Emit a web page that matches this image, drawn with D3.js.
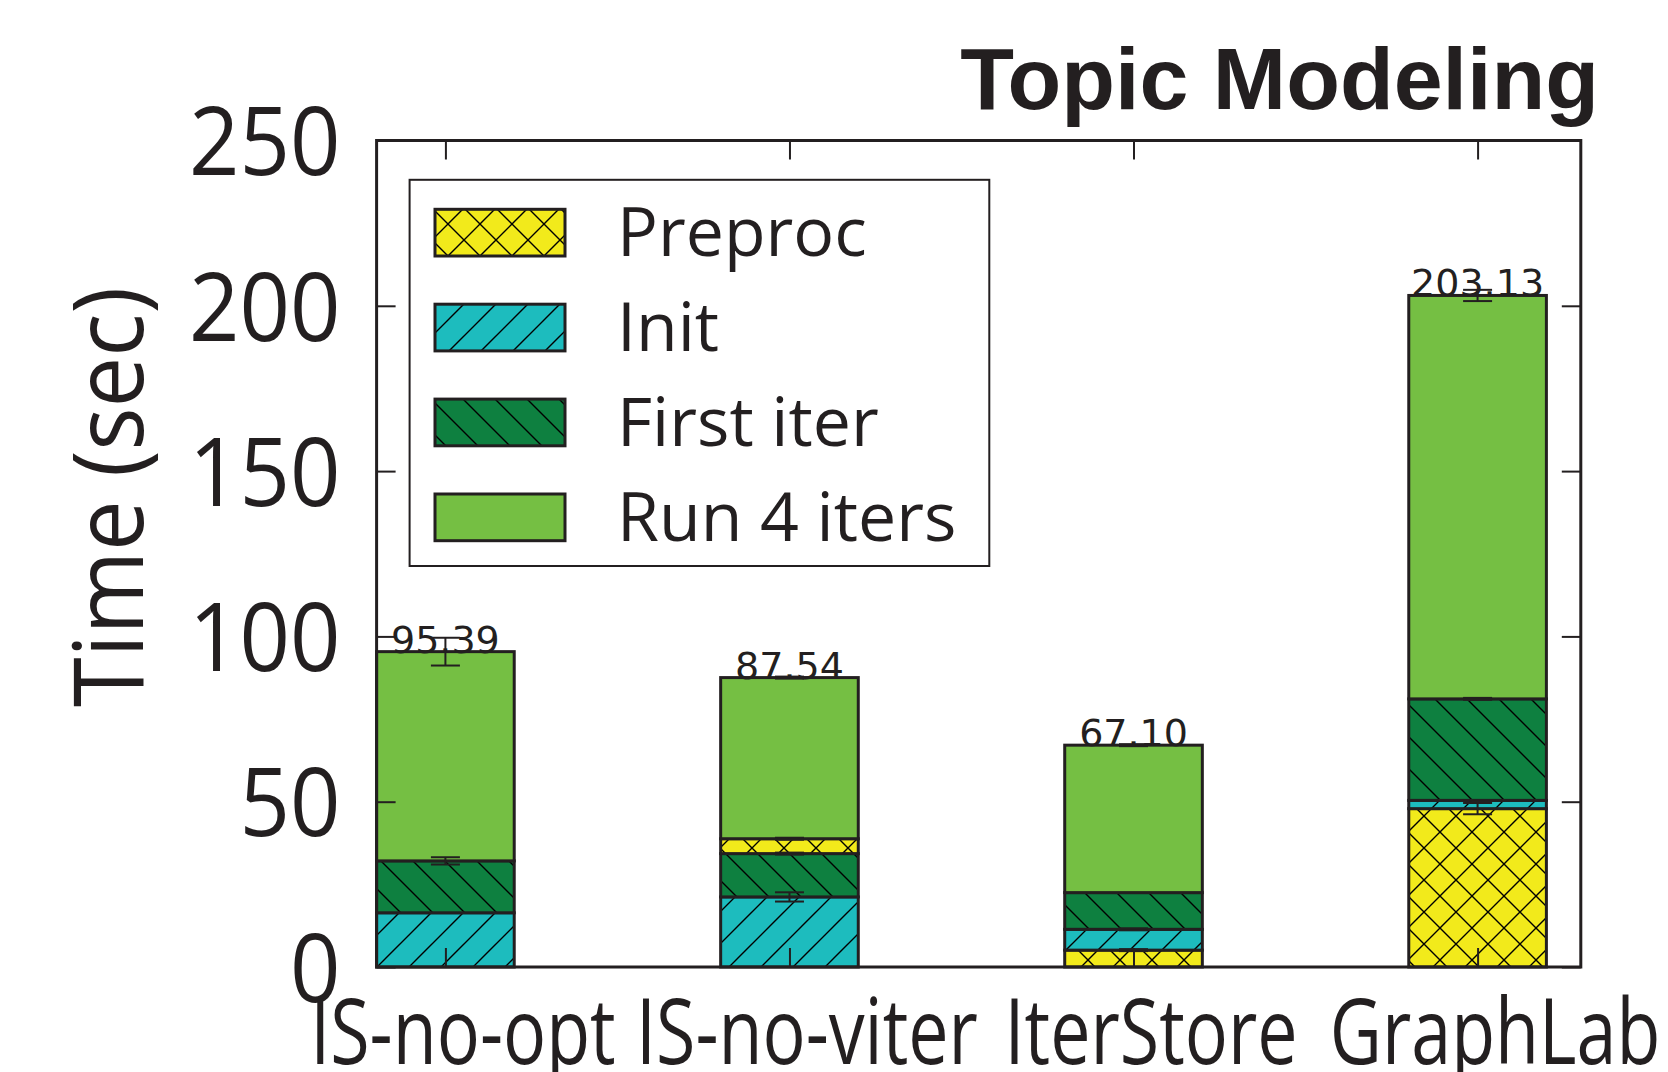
<!DOCTYPE html>
<html>
<head>
<meta charset="utf-8">
<script src="https://cdn.jsdelivr.net/npm/d3@7"></script>
<style>
  body { margin: 0; background: #fff; }
  svg { display: block; }
</style>
</head>
<body>
<svg id="chart"></svg>
<script>
// data
const categories = ["IS-no-opt", "IS-no-viter", "IterStore", "GraphLab"];
const seriesNames = ["Preproc", "Init", "First iter", "Run 4 iters"];
const preproc   = [0, 4.5, 5.1, 47.9];
const init      = [16.4, 21.2, 6.3, 2.5];
const firstIter = [15.7, 13.1, 11.1, 30.7];
const run4      = [63.29, 48.74, 44.6, 122.03];
// error bar half widths, drawn at each segment's top
const preprocErr   = [0, 0.3, 0.3, 1.7];
const initErr      = [0, 1.4, 0.3, 0];
const firstIterErr = [1.1, 0.3, 0, 0.3];
const run4Err      = [4.2, 0.3, 0.3, 1.7];
// stacking order of the series inside each bar (bottom first)
const stackOrder = [[0, 1, 2, 3], [1, 2, 0, 3], [0, 1, 2, 3], [0, 1, 2, 3]];
const yTicks = [0, 50, 100, 150, 200, 250];

const values = [preproc, init, firstIter, run4];
const errors = [preprocErr, initErr, firstIterErr, run4Err];
const colors = ["#f2ea1b", "#1dbcbe", "#0e8040", "#75bf43"];
const hatches = ["x", "/", "\\", ""];
const ink = "#231f20";

const W = 1668, H = 1072;
const svg = d3.select("#chart").attr("width", W).attr("height", H);
svg.append("rect").attr("width", W).attr("height", H).attr("fill", "#fff");

const plot = {left: 376.6, right: 1580.8, top: 140.5, bottom: 967};
const x = d3.scaleLinear().domain([-0.2, 3.3]).range([plot.left, plot.right]);
const y = d3.scaleLinear().domain([0, 250]).range([plot.bottom, plot.top]);
const barW = x(0.4) - x(0);

// hatch patterns
const defs = svg.append("defs");
const T = 32;
const hatchPaths = {
  "/": `M0,${T}L${T},0M${-T/4},${T/4}L${T/4},${-T/4}M${T*3/4},${T*5/4}L${T*5/4},${T*3/4}`,
  "\\": `M0,0L${T},${T}M${-T/4},${T*3/4}L${T/4},${T*5/4}M${T*3/4},${-T/4}L${T*5/4},${T/4}`
};
hatchPaths["x"] = hatchPaths["/"] + hatchPaths["\\"];
seriesNames.forEach((name, s) => {
  const p = defs.append("pattern")
    .attr("id", "pat" + s)
    .attr("patternUnits", "userSpaceOnUse")
    .attr("width", T).attr("height", T);
  p.append("rect").attr("width", T).attr("height", T).attr("fill", colors[s]);
  if (hatches[s]) {
    p.append("path").attr("d", hatchPaths[hatches[s]])
      .attr("stroke", "#000").attr("stroke-width", 1.4).attr("fill", "none");
  }
});

// segments
const segments = [];
categories.forEach((c, i) => {
  let acc = 0;
  stackOrder[i].forEach(s => {
    const v = values[s][i];
    segments.push({i, s, y0: acc, y1: acc + v, err: errors[s][i]});
    acc += v;
  });
});

svg.append("g").selectAll("rect")
  .data(segments.filter(d => d.y1 > d.y0))
  .join("rect")
  .attr("x", d => x(d.i) - barW / 2)
  .attr("width", barW)
  .attr("y", d => y(d.y1))
  .attr("height", d => y(d.y0) - y(d.y1))
  .attr("fill", d => `url(#pat${d.s})`)
  .attr("stroke", ink)
  .attr("stroke-width", 3);

// error bars
const capW = 29;
const eb = svg.append("g").attr("stroke", ink).attr("stroke-width", 2);
segments.filter(d => d.err > 0).forEach(d => {
  const cx = x(d.i);
  eb.append("line").attr("x1", cx).attr("x2", cx)
    .attr("y1", y(d.y1 - d.err)).attr("y2", y(d.y1 + d.err));
  [d.y1 - d.err, d.y1 + d.err].forEach(v => {
    eb.append("line").attr("x1", cx - capW / 2).attr("x2", cx + capW / 2)
      .attr("y1", y(v)).attr("y2", y(v));
  });
});

// value labels
const totals = categories.map((c, i) => values.reduce((a, arr) => a + arr[i], 0));
svg.append("g").selectAll("text")
  .data(totals)
  .join("text")
  .attr("x", (d, i) => x(i))
  .attr("y", d => y(d) + 1)
  .attr("text-anchor", "middle")
  .attr("font-family", "DejaVu Sans")
  .attr("font-size", 38)
  .attr("fill", ink)
  .text(d => d.toFixed(2));

// axes: ticks inward on all four sides
const tickLen = 19;
const gLeft = svg.append("g").attr("transform", `translate(${plot.left},0)`)
  .call(d3.axisLeft(y).tickValues(yTicks).tickSizeInner(-tickLen).tickSizeOuter(0).tickPadding(36));
const gRight = svg.append("g").attr("transform", `translate(${plot.right},0)`)
  .call(d3.axisRight(y).tickValues(yTicks).tickSizeInner(-tickLen).tickSizeOuter(0).tickFormat(""));
const gBottom = svg.append("g").attr("transform", `translate(0,${plot.bottom})`)
  .call(d3.axisBottom(x).tickValues(d3.range(categories.length)).tickSizeInner(-tickLen).tickSizeOuter(0)
    .tickPadding(32).tickFormat(i => categories[i]));
const gTop = svg.append("g").attr("transform", `translate(0,${plot.top})`)
  .call(d3.axisTop(x).tickValues(d3.range(categories.length)).tickSizeInner(-tickLen).tickSizeOuter(0).tickFormat(""));

[gLeft, gRight, gBottom, gTop].forEach(g => {
  g.select(".domain").remove();
  g.selectAll(".tick line").attr("stroke", ink).attr("stroke-width", 2);
});

gLeft.selectAll(".tick text")
  .attr("font-family", "Open Sans").attr("font-size", 95).attr("fill", ink)
  .attr("dy", "0.36em")
  .attr("transform", function() {
    const tx = +d3.select(this).attr("x");
    d3.select(this).attr("x", 0);
    return `translate(${tx},0) scale(0.93,1)`;
  });

gBottom.selectAll(".tick text")
  .attr("font-family", "Open Sans").attr("font-size", 92).attr("fill", ink)
  .attr("transform", "translate(17,0) scale(0.78,1)");

// frame
svg.append("rect")
  .attr("x", plot.left).attr("y", plot.top)
  .attr("width", plot.right - plot.left).attr("height", plot.bottom - plot.top)
  .attr("fill", "none").attr("stroke", ink).attr("stroke-width", 3);

// y axis title
svg.append("text")
  .attr("transform", `translate(143,497) rotate(-90) scale(0.93,1)`)
  .attr("text-anchor", "middle")
  .attr("font-family", "Open Sans").attr("font-size", 97).attr("fill", ink)
  .text("Time (sec)");

// chart title
svg.append("text")
  .attr("x", 1599).attr("y", 109)
  .attr("text-anchor", "end")
  .attr("font-family", "Liberation Sans, Arial, sans-serif")
  .attr("font-weight", "bold").attr("font-size", 88).attr("fill", ink)
  .text("Topic Modeling");

// legend
const lg = svg.append("g");
lg.append("rect")
  .attr("x", 409.6).attr("y", 179.8).attr("width", 579.7).attr("height", 386.2)
  .attr("fill", "#fff").attr("stroke", ink).attr("stroke-width", 2);
const rowStep = 94.9, rowTop = 209.3, swH = 46.7;
seriesNames.forEach((name, s) => {
  const ry = rowTop + s * rowStep;
  lg.append("rect")
    .attr("x", 435).attr("y", ry).attr("width", 130).attr("height", swH)
    .attr("fill", `url(#pat${s})`).attr("stroke", ink).attr("stroke-width", 3);
  lg.append("text")
    .attr("x", 617).attr("y", ry + swH)
    .attr("font-family", "Open Sans").attr("font-size", 68).attr("fill", ink)
    .text(name);
});
</script>
</body>
</html>
